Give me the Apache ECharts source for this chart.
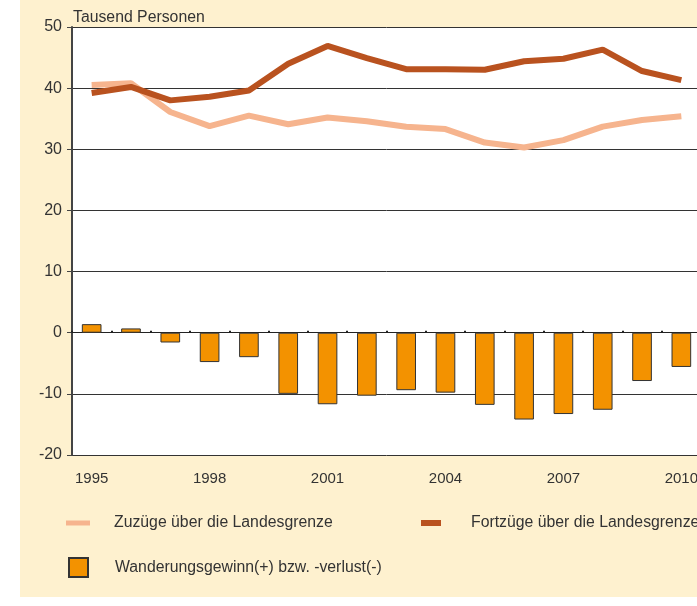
<!DOCTYPE html>
<html>
<head>
<meta charset="utf-8">
<script src="https://cdn.jsdelivr.net/npm/echarts@6/dist/echarts.min.js"></script>
<style>
  html, body { margin: 0; padding: 0; background: #fff; overflow: hidden; width: 697px; height: 606px; }
  #chart { position: absolute; left: 20px; top: 0; width: 700px; height: 597px; background: #fef1cf; }
</style>
</head>
<body>
<div id="chart"></div>
<script>
const years = ['1995', '1996', '1997', '1998', '1999', '2000', '2001', '2002',
  '2003', '2004', '2005', '2006', '2007', '2008', '2009', '2010']
const zuzuege = [40.5, 40.8, 36.1, 33.8, 35.5, 34.1, 35.2, 34.6, 33.7, 33.3, 31.1, 30.3, 31.5, 33.7, 34.8, 35.4]
const fortzuege = [39.2, 40.2, 38.0, 38.6, 39.6, 44.0, 46.9, 44.9, 43.1, 43.1, 43.0, 44.4, 44.8, 46.3, 42.8, 41.3]
const saldo = [1.4, 0.7, -1.6, -4.8, -4.0, -10.0, -11.7, -10.3, -9.4, -9.8, -11.8, -14.2, -13.3, -12.6, -7.9, -5.6]

const FONT = '"Liberation Sans", Arial, sans-serif'
const TXT = '#333'
const C_ZU = '#f6b48e', C_FORT = '#b9521f', C_BAR = '#f39200'

const chart = echarts.init(document.getElementById('chart'))

const legendBase = {
  orient: 'horizontal',
  icon: 'rect',
  selectedMode: false,
  textStyle: { fontFamily: FONT, fontSize: 15.8, color: TXT }
}

chart.setOption({
  animation: false,
  textStyle: { fontFamily: FONT },
  title: {
    text: 'Tausend Personen',
    left: 48, top: 5,
    textStyle: { fontFamily: FONT, fontSize: 15.8, fontWeight: 'normal', color: TXT }
  },
  grid: { left: 52, top: 27, width: 629, height: 428, backgroundColor: '#fff', show: true, borderWidth: 0 },
  legend: [
    Object.assign({}, legendBase, {
      data: ['Zuzüge über die Landesgrenze'], left: 41, top: 510,
      itemWidth: 24, itemHeight: 5,
      textStyle: Object.assign({}, legendBase.textStyle, { padding: [0, 0, 0, 19] })
    }),
    Object.assign({}, legendBase, {
      data: ['Fortzüge über die Landesgrenze'], left: 396, top: 510,
      itemWidth: 20, itemHeight: 6,
      textStyle: Object.assign({}, legendBase.textStyle, { padding: [0, 0, 0, 25] })
    }),
    Object.assign({}, legendBase, {
      data: ['Wanderungsgewinn(+) bzw. -verlust(-)'], left: 43, top: 552,
      itemWidth: 19, itemHeight: 19,
      textStyle: Object.assign({}, legendBase.textStyle, { padding: [0, 0, 0, 22] })
    })
  ],
  xAxis: [{
    type: 'category',
    data: years,
    position: 'bottom',
    axisLine: { show: false, onZero: false },
    axisTick: { show: false },
    axisLabel: { interval: 2, margin: 16, fontSize: 15, color: TXT, fontFamily: FONT }
  }, {
    type: 'category',
    data: years,
    position: 'top',
    axisLine: { show: true, onZero: true, lineStyle: { color: '#222', width: 1 } },
    axisTick: { show: true, length: 2, lineStyle: { color: '#222', width: 2 } },
    axisLabel: { show: false }
  }],
  yAxis: {
    type: 'value',
    min: -20, max: 50, interval: 10,
    axisLine: { show: true, lineStyle: { color: '#444', width: 2 } },
    axisTick: { show: true, length: 5, lineStyle: { color: '#444' } },
    axisLabel: { fontSize: 16, color: TXT, margin: 10, fontFamily: FONT },
    splitLine: { lineStyle: { color: '#333', width: 1 } }
  },
  series: [{
    name: 'Wanderungsgewinn(+) bzw. -verlust(-)',
    type: 'bar',
    data: saldo,
    barWidth: '50%',
    itemStyle: { color: C_BAR, borderColor: '#333', borderWidth: 1 }
  }, {
    name: 'Zuzüge über die Landesgrenze',
    type: 'line',
    data: zuzuege,
    showSymbol: false, symbol: 'none',
    itemStyle: { color: C_ZU },
    lineStyle: { color: C_ZU, width: 6 }
  }, {
    name: 'Fortzüge über die Landesgrenze',
    type: 'line',
    data: fortzuege,
    showSymbol: false, symbol: 'none',
    itemStyle: { color: C_FORT },
    lineStyle: { color: C_FORT, width: 6 }
  }]
})
</script>
</body>
</html>
